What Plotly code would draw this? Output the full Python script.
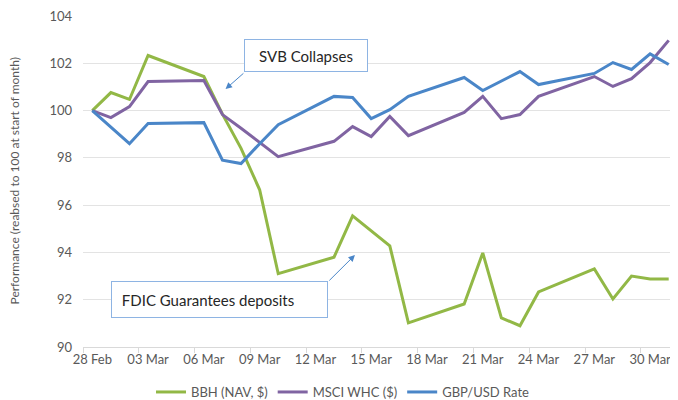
import plotly.graph_objects as go

# trading days, March 2023
dates = ["2023-02-28", "2023-03-01", "2023-03-02", "2023-03-03", "2023-03-06",
         "2023-03-07", "2023-03-08", "2023-03-09", "2023-03-10", "2023-03-13",
         "2023-03-14", "2023-03-15", "2023-03-16", "2023-03-17", "2023-03-20",
         "2023-03-21", "2023-03-22", "2023-03-23", "2023-03-24", "2023-03-27",
         "2023-03-28", "2023-03-29", "2023-03-30", "2023-03-31"]

bbh = [100.0, 100.76, 100.47, 102.33, 101.44, 99.85, 98.4, 96.65, 93.1, 93.8,
       95.55, 94.9, 94.28, 91.02, 91.82, 93.98, 91.23, 90.9, 92.33, 93.3,
       92.03, 93.0, 92.88, 92.88]
msci = [100.0, 99.7, 100.17, 101.23, 101.27, 99.83, 99.25, 98.65, 98.05, 98.7,
        99.32, 98.9, 99.75, 98.94, 99.92, 100.6, 99.66, 99.83, 100.6, 101.44,
        101.02, 101.35, 102.03, 102.97]
gbpusd = [100.0, 99.3, 98.6, 99.45, 99.49, 97.9, 97.76, 98.6, 99.4, 100.6,
          100.55, 99.66, 100.04, 100.6, 101.4, 100.85, 101.25, 101.65, 101.1, 101.57,
          102.03, 101.74, 102.4, 101.95]

series_names = ["BBH (NAV, $)", "MSCI WHC ($)", "GBP/USD Rate"]
colors = ["#92b846", "#8064a2", "#4a86c8"]

tick_vals = ["2023-02-28", "2023-03-03", "2023-03-06", "2023-03-09", "2023-03-12",
             "2023-03-15", "2023-03-18", "2023-03-21", "2023-03-24", "2023-03-27",
             "2023-03-30"]
tick_text = ["28 Feb", "03 Mar", "06 Mar", "09 Mar", "12 Mar", "15 Mar",
             "18 Mar", "21 Mar", "24 Mar", "27 Mar", "30 Mar"]

fig = go.Figure()
for name, vals, c in zip(series_names, [bbh, msci, gbpusd], colors):
    fig.add_trace(go.Scatter(x=dates, y=vals, mode="lines", name=name,
                             line=dict(color=c, width=3)))

box_border = "#8eb4e3"
arrow_col = "#4a86c8"
fig.add_annotation(x="2023-03-11 12:00", y=102.35, xref="x", yref="y",
                   text="SVB Collapses", showarrow=False,
                   font=dict(size=15, color="#262626"),
                   bgcolor="white", bordercolor=box_border, borderwidth=1,
                   width=114, height=23, borderpad=4)
fig.add_annotation(x="2023-03-07 04:00", y=100.91, ax="2023-03-08 05:00", ay=101.63,
                   xref="x", yref="y", axref="x", ayref="y", text="",
                   showarrow=True, arrowhead=2, arrowsize=1.3, arrowwidth=1,
                   arrowcolor=arrow_col)
fig.add_annotation(x="2023-03-06 20:00", y=92.01, xref="x", yref="y",
                   text=" FDIC Guarantees deposits", showarrow=False, align="left",
                   font=dict(size=15, color="#262626"),
                   bgcolor="white", bordercolor=box_border, borderwidth=1,
                   width=203, height=23, borderpad=6)
fig.add_annotation(x="2023-03-14 03:00", y=93.89, ax="2023-03-12 16:00", ay=92.75,
                   xref="x", yref="y", axref="x", ayref="y", text="",
                   showarrow=True, arrowhead=2, arrowsize=1.3, arrowwidth=1,
                   arrowcolor=arrow_col)
# y axis title placed by hand so the plot keeps its left edge
fig.add_annotation(x=0, y=0.5, xref="paper", yref="paper", xshift=-69,
                   text="Performance (reabsed to 100 at start of month)",
                   textangle=-90, showarrow=False, xanchor="center", yanchor="middle",
                   font=dict(size=12, color="#595959"))

# page body has an 8px margin, so the figure is 8px smaller each way
fig.update_layout(
    width=670, height=392,
    margin=dict(l=75, r=0, t=8, b=53, autoexpand=False),
    paper_bgcolor="white", plot_bgcolor="white",
    font=dict(family="Lato", size=13, color="#595959"),
    legend=dict(orientation="h", x=0.437, xanchor="center", y=-0.136,
                yanchor="middle", font=dict(size=13, color="#595959"),
                itemwidth=30),
    xaxis=dict(type="date", range=["2023-02-27 12:00", "2023-03-31 12:00"],
               tickmode="array", tickvals=tick_vals, ticktext=tick_text,
               showgrid=False, showline=True, linecolor="#d9d9d9", linewidth=1,
               ticks="", zeroline=False, automargin=False,
               ticklabeloverflow="allow",
               minor=dict(tick0="2023-02-27 12:00", dtick=3 * 86400000,
                          ticks="outside", ticklen=5, tickcolor="#d9d9d9",
                          showgrid=False),
               tickfont=dict(size=13, color="#595959")),
    yaxis=dict(range=[90, 104], dtick=2, showgrid=True, gridcolor="#e3e3e3",
               zeroline=False, ticks="", automargin=False, ticklabelstandoff=10,
               ticklabeloverflow="allow",
               tickfont=dict(size=13, color="#595959")),
)

fig.write_html("out.html")
